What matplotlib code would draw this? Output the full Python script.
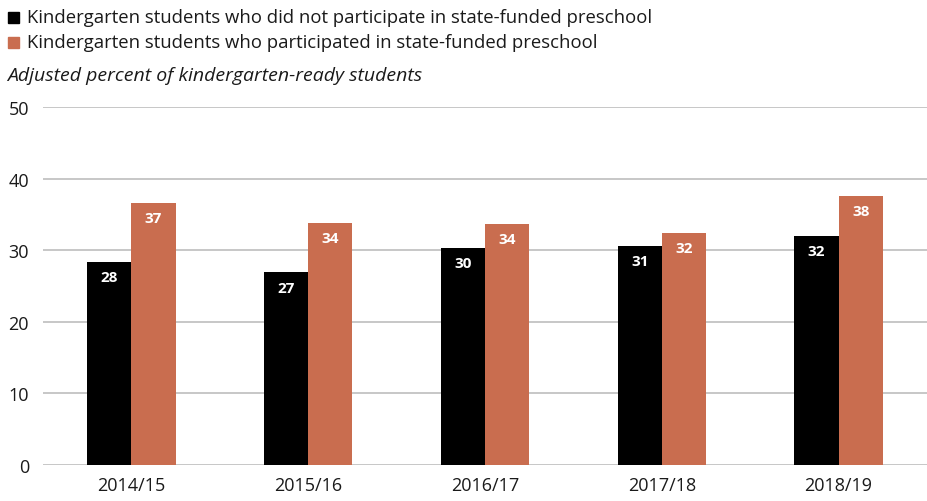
import matplotlib.pyplot as plt
import numpy as np

years = ['2014/15', '2015/16', '2016/17', '2017/18', '2018/19']
no_preschool = [28.4, 26.9, 30.3, 30.6, 32.0]
preschool = [36.6, 33.8, 33.7, 32.4, 37.6]
no_preschool_labels = ['28', '27', '30', '31', '32']
preschool_labels = ['37', '34', '34', '32', '38']

black = '#000000'
orange = '#c96d4f'

plt.rcParams['font.family'] = ['Open Sans', 'DejaVu Sans']

fig = plt.figure(figsize=(9.27, 5.02), dpi=100)
ax = fig.add_axes([0.0464, 0.0717, 0.9536, 0.7131])

x = np.arange(len(years))
w = 0.25
b1 = ax.bar(x - w / 2, no_preschool, w, color=black, zorder=3)
b2 = ax.bar(x + w / 2, preschool, w, color=orange, zorder=3)

for bars, labels in ((b1, no_preschool_labels), (b2, preschool_labels)):
    for rect, lab in zip(bars, labels):
        ax.annotate(lab, (rect.get_x() + rect.get_width() / 2, rect.get_height()),
                    xytext=(0, -11), textcoords='offset points',
                    ha='center', va='center', color='white',
                    fontsize=11, fontweight='bold', zorder=4)

ax.set_xlim(-0.5, len(years) - 0.5)
ax.set_ylim(0, 50)
ax.set_yticks(range(0, 51, 10))
ax.set_xticks(x)
ax.set_xticklabels(years)
ax.yaxis.grid(True, color='#b8b8b8', linewidth=1.1, zorder=0)
ax.tick_params(axis='both', length=0, labelsize=13, colors='#1a1a1a')
ax.tick_params(axis='y', pad=10)
ax.tick_params(axis='x', pad=8)
for s in ax.spines.values():
    s.set_visible(False)

# legend and axis title as figure text
fig.patches.append(plt.Rectangle((8 / 927, 1 - 24 / 502), 11 / 927, 11 / 502,
                                 transform=fig.transFigure, color=black))
fig.text(27 / 927, 1 - 18 / 502, 'Kindergarten students who did not participate in state-funded preschool',
         fontsize=13.3, va='center', ha='left', color='#1a1a1a')
fig.patches.append(plt.Rectangle((8 / 927, 1 - 49 / 502), 11 / 927, 11 / 502,
                                 transform=fig.transFigure, color=orange))
fig.text(27 / 927, 1 - 43 / 502, 'Kindergarten students who participated in state-funded preschool',
         fontsize=13.3, va='center', ha='left', color='#1a1a1a')
fig.text(7 / 927, 1 - 76 / 502, 'Adjusted percent of kindergarten-ready students',
         fontsize=14, style='italic', va='center', ha='left', color='#1a1a1a')

fig.savefig('out.png', dpi=100)
